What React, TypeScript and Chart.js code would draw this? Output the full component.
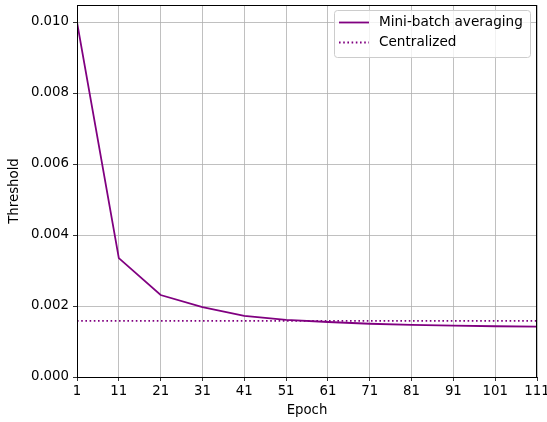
import React, { useEffect, useRef } from "react";
import { Chart, registerables } from "chart.js";
Chart.register(...registerables);

const epochs = [1, 11, 21, 31, 41, 51, 61, 71, 81, 91, 101, 111];
const miniBatch = [0.0100, 0.00335, 0.00231, 0.00197, 0.00172, 0.00161, 0.00155, 0.0015, 0.00147, 0.00145, 0.00143, 0.00142];
const centralized = 0.00158;
const yTicks = [0, 0.002, 0.004, 0.006, 0.008, 0.01];
const seriesNames = ["Mini-batch averaging", "Centralized"];
const PURPLE = "#800080";
const FONT = "'DejaVu Sans', sans-serif";
const FS = 13.3;

const frameLegend = {
  id: "frameLegend",
  afterDraw(chart: any) {
    const { ctx, chartArea: a } = chart;
    ctx.save();
    ctx.strokeStyle = "#000";
    ctx.lineWidth = 1;
    ctx.strokeRect(Math.round(a.left) + 0.5, Math.round(a.top) + 0.5, Math.round(a.right - a.left) - 1, Math.round(a.bottom - a.top));
    const x0 = 334.5, y0 = 10.5, w = 196, h = 47, r = 3;
    ctx.globalAlpha = 0.8;
    ctx.fillStyle = "#fff";
    ctx.beginPath();
    ctx.roundRect(x0, y0, w, h, r);
    ctx.fill();
    ctx.globalAlpha = 1;
    ctx.strokeStyle = "#cccccc";
    ctx.stroke();
    ctx.strokeStyle = PURPLE;
    ctx.lineWidth = 1.8;
    ctx.beginPath();
    ctx.moveTo(339, 22.5);
    ctx.lineTo(369, 22.5);
    ctx.stroke();
    ctx.setLineDash([1.6, 2.6]);
    ctx.beginPath();
    ctx.moveTo(339, 42.5);
    ctx.lineTo(369, 42.5);
    ctx.stroke();
    ctx.setLineDash([]);
    ctx.fillStyle = "#000";
    ctx.font = `13.6px ${FONT}`;
    ctx.textBaseline = "middle";
    ctx.fillText(seriesNames[0], 379, 22.5);
    ctx.fillText(seriesNames[1], 379, 42.5);
    ctx.restore();
  },
};

export default function App() {
  const ref = useRef<HTMLCanvasElement>(null);
  useEffect(() => {
    document.body.style.margin = "0";
    const chart = new Chart(ref.current!, {
      type: "line",
      data: {
        datasets: [
          {
            label: seriesNames[0],
            data: epochs.map((e, i) => ({ x: e, y: miniBatch[i] })),
            borderColor: PURPLE,
            borderWidth: 1.8,
            pointRadius: 0,
            tension: 0,
          },
          {
            label: seriesNames[1],
            data: [epochs[0], epochs[epochs.length - 1]].map((e) => ({ x: e, y: centralized })),
            borderColor: PURPLE,
            borderWidth: 1.8,
            borderDash: [1.6, 2.6],
            pointRadius: 0,
          },
        ],
      },
      options: {
        animation: false,
        responsive: false,
        layout: { padding: { top: 5, right: 10, left: 7, bottom: 0 } },
        plugins: { legend: { display: false }, tooltip: { enabled: false } },
        scales: {
          x: {
            type: "linear",
            min: 1,
            max: 111,
            afterBuildTicks: (s: any) => {
              s.ticks = epochs.map((v) => ({ value: v }));
            },
            afterFit: (s: any) => {
              s.height = 45;
              s.paddingLeft = 0;
              s.paddingRight = 0;
            },
            ticks: { color: "#000", font: { family: FONT, size: FS }, padding: 3, maxRotation: 0, autoSkip: false },
            grid: { color: "#b0b0b0", lineWidth: 0.8, tickColor: "#000", tickLength: 4 },
            border: { color: "#000", width: 1 },
            title: { display: true, text: "Epoch", color: "#000", font: { family: FONT, size: FS }, padding: { top: 0, bottom: 3 } },
          },
          y: {
            min: 0,
            max: 0.01048,
            afterBuildTicks: (s: any) => {
              s.ticks = yTicks.map((v) => ({ value: v }));
            },
            afterFit: (s: any) => {
              s.width = 70;
              s.paddingTop = 0;
              s.paddingBottom = 0;
            },
            ticks: {
              color: "#000",
              font: { family: FONT, size: FS },
              padding: 4,
              callback: (v: any) => Number(v).toFixed(3),
            },
            grid: { color: "#b0b0b0", lineWidth: 0.8, tickColor: "#000", tickLength: 4 },
            border: { color: "#000", width: 1 },
            title: { display: true, text: "Threshold", color: "#000", font: { family: FONT, size: FS }, padding: { top: 0, bottom: 0 } },
          },
        },
      },
      plugins: [frameLegend],
    });
    return () => chart.destroy();
  }, []);
  return (
    <div style={{ width: 547, height: 422 }}>
      <canvas ref={ref} width={547} height={422} style={{ display: "block" }} />
    </div>
  );
}
